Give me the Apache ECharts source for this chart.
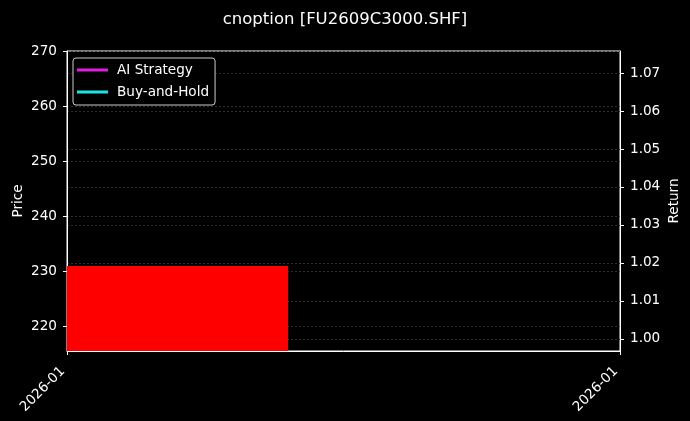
<!DOCTYPE html>
<html>
    <head>
        <meta charset="utf-8">
        <script src="https://cdn.jsdelivr.net/npm/echarts@6/dist/echarts.min.js"></script>
        <style>
            html, body { margin: 0; padding: 0; background: #000; }
            #main { width: 690px; height: 421px; }
        </style>
    </head>
    <body>
        <div id="main"></div>
        <script>
            // data
            var dateLabels = ['2026-01', '2026-01'];
            var seriesNames = ['AI Strategy', 'Buy-and-Hold'];
            // [start, end, price] in axis fraction of the date range
            var priceBars = [[0, 0.4, 230.9]];
            var priceTicks = [220, 230, 240, 250, 260, 270];
            var returnTicks = [1.00, 1.01, 1.02, 1.03, 1.04, 1.05, 1.06, 1.07];
            var priceRange = [215.45, 270];
            var returnRange = [0.9968, 1.0758];

            var font = 'DejaVu Sans';
            var fs = 13.6;
            var chart = echarts.init(document.getElementById('main'));

            var gridLine = {
                show: true,
                lineStyle: { color: '#3a3a3a', type: [2, 2], width: 0.8 }
            };

            chart.setOption({
                backgroundColor: '#000',
                animation: false,
                title: {
                    text: 'cnoption [FU2609C3000.SHF]',
                    left: 'center',
                    top: 6,
                    textStyle: { color: '#fff', fontSize: 16.5, fontWeight: 'normal', fontFamily: font }
                },
                legend: {
                    orient: 'vertical',
                    left: 73,
                    top: 58,
                    padding: [5, 6, 6, 4],
                    itemGap: 8,
                    itemWidth: 31,
                    itemHeight: 3,
                    icon: 'rect',
                    backgroundColor: '#000',
                    borderColor: '#cccccc',
                    borderWidth: 1,
                    borderRadius: 3,
                    textStyle: { color: '#fff', fontSize: fs, fontFamily: font, padding: [0, 0, 0, 4] },
                    data: seriesNames
                },
                grid: {
                    left: 67, right: 70, top: 51, bottom: 70,
                    outerBoundsMode: 'none',
                    containLabel: false,
                    show: true,
                    borderColor: '#fff',
                    borderWidth: 1
                },
                xAxis: {
                    type: 'value',
                    min: 0,
                    max: 1,
                    interval: 1,
                    axisLine: { show: true, lineStyle: { color: '#fff' } },
                    axisTick: { show: true, length: 4, lineStyle: { color: '#fff' } },
                    splitLine: { show: false },
                    axisLabel: {
                        color: '#fff', fontSize: fs, fontFamily: font, rotate: 45, margin: 14,
                        padding: [0, 6, 0, 0],
                        formatter: function (v) { return dateLabels[v]; }
                    }
                },
                yAxis: [{
                    type: 'value',
                    min: priceRange[0],
                    max: priceRange[1],
                    name: 'Price',
                    nameLocation: 'middle',
                    nameRotate: 90,
                    nameGap: 42,
                    nameMoveOverlap: false,
                    nameTextStyle: { color: '#fff', fontSize: fs, fontFamily: font },
                    axisLine: { show: true, lineStyle: { color: '#fff' } },
                    axisTick: { show: true, length: 4, lineStyle: { color: '#fff' }, customValues: priceTicks },
                    axisLabel: { color: '#fff', fontSize: fs, fontFamily: font, margin: 10, customValues: priceTicks },
                    splitLine: gridLine
                }, {
                    type: 'value',
                    position: 'right',
                    min: returnRange[0],
                    max: returnRange[1],
                    name: 'Return',
                    nameLocation: 'middle',
                    nameRotate: 90,
                    nameGap: 47,
                    nameMoveOverlap: false,
                    nameTextStyle: { color: '#fff', fontSize: fs, fontFamily: font },
                    axisLine: { show: true, lineStyle: { color: '#fff' } },
                    axisTick: { show: true, length: 4, lineStyle: { color: '#fff' }, customValues: returnTicks },
                    axisLabel: {
                        color: '#fff', fontSize: fs, fontFamily: font, margin: 10, customValues: returnTicks,
                        formatter: function (v) { return v.toFixed(2); }
                    },
                    splitLine: gridLine
                }],
                series: [{
                    type: 'custom',
                    yAxisIndex: 0,
                    silent: true,
                    z: 1,
                    data: priceBars,
                    renderItem: function (params, api) {
                        var p0 = api.coord([api.value(0), api.value(2)]);
                        var p1 = api.coord([api.value(1), priceRange[0]]);
                        return {
                            type: 'rect',
                            shape: { x: p0[0], y: p0[1], width: p1[0] - p0[0], height: p1[1] - p0[1] },
                            style: { fill: '#ff0000' }
                        };
                    }
                }, {
                    name: seriesNames[0],
                    type: 'line',
                    yAxisIndex: 1,
                    color: '#e01ee0',
                    data: []
                }, {
                    name: seriesNames[1],
                    type: 'line',
                    yAxisIndex: 1,
                    color: '#1ee3e3',
                    data: []
                }]
            });
        </script>
    </body>
</html>
